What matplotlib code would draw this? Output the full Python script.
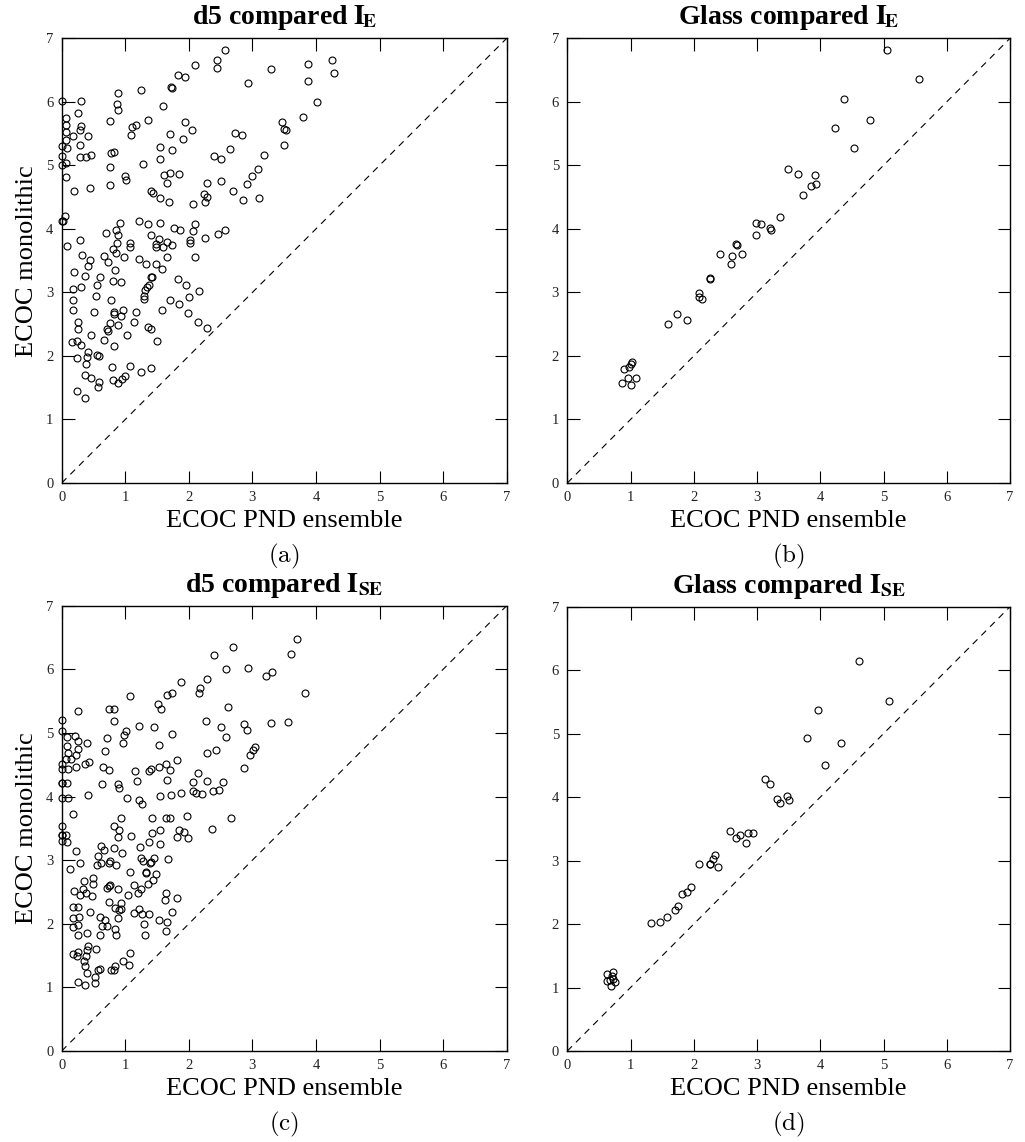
import numpy as np
import matplotlib
matplotlib.use('Agg')
import matplotlib.pyplot as plt

# ---------------- data (ECOC PND ensemble, ECOC monolithic) ----------------
d5_IE = [
    (2.57,6.82),(2.44,6.66),(2.44,6.54),(2.10,6.58),(1.83,6.43),(1.94,6.39),(3.29,6.52),(2.93,6.30),
    (1.72,6.23),(1.73,6.22),(1.24,6.19),(0.88,6.14),(0.87,5.96),(0.88,5.87),(1.59,5.93),(0.00,6.02),
    (0.30,6.01),(0.26,5.82),(0.06,5.75),(0.06,5.63),(0.31,5.62),(0.07,5.53),(0.29,5.55),(0.18,5.46),
    (0.42,5.46),(0.06,5.40),(0.00,5.30),(0.08,5.27),(0.28,5.32),(0.00,5.14),(0.29,5.13),(0.38,5.13),
    (0.46,5.17),(0.06,5.03),(0.00,5.00),(0.07,4.81),(0.19,4.59),(0.44,4.65),(0.76,5.70),(1.11,5.61),
    (1.17,5.64),(1.09,5.48),(1.36,5.72),(1.94,5.68),(2.05,5.55),(1.91,5.42),(1.71,5.50),(1.54,5.29),
    (1.73,5.24),(1.54,5.10),(1.28,5.02),(0.76,4.97),(0.77,5.19),(0.82,5.21),(0.99,4.84),(1.01,4.77),
    (0.76,4.69),(1.61,4.85),(1.71,4.88),(1.84,4.87),(1.66,4.73),(1.41,4.59),(1.43,4.57),(1.55,4.48),
    (1.68,4.42),(2.07,4.39),(2.24,4.55),(2.29,4.50),(2.25,4.42),(2.29,4.73),(2.50,4.76),(2.39,5.14),
    (2.51,5.10),(2.65,5.25),(2.73,5.51),(2.84,5.47),(3.19,5.16),(3.09,4.95),(3.00,4.83),(2.92,4.71),
    (2.70,4.60),(2.85,4.45),(3.11,4.48),(3.46,5.68),(3.49,5.57),(3.49,5.32),
    (0.00,4.12),(0.05,4.20),(0.02,4.12),(0.08,3.73),(0.28,3.83),(0.32,3.59),(0.44,3.51),(0.70,3.94),
    (0.86,3.99),(0.92,4.10),(0.89,3.90),(0.87,3.78),(0.80,3.68),(0.85,3.62),(0.66,3.58),(1.08,3.77),
    (1.08,3.72),(0.98,3.55),(1.21,4.12),(1.35,4.07),(1.54,4.09),(1.40,3.90),(1.53,3.84),(1.48,3.76),
    (1.49,3.72),(1.59,3.71),(1.66,3.79),(1.74,3.74),(1.77,4.01),(1.86,3.98),(2.09,4.07),(2.07,3.97),
    (2.02,3.82),(2.02,3.77),(2.26,3.86),(2.46,3.92),(2.57,3.98),(1.65,3.56),(2.09,3.56),(1.21,3.53),
    (3.87,6.60),(4.25,6.66),(4.28,6.46),(3.87,6.32),(4.01,6.00),(3.79,5.76),(3.53,5.56),
    (1.32,3.44),(1.48,3.44),(1.57,3.37),(0.19,3.32),(0.36,3.26),(0.41,3.41),(0.73,3.48),(0.84,3.35),
    (0.60,3.24),(0.55,3.12),(0.31,3.09),(0.18,3.06),(0.17,2.88),(0.17,2.72),(0.54,2.94),(0.77,2.88),
    (0.80,3.18),(0.93,3.16),(1.31,3.04),(1.34,3.09),(1.38,3.12),(1.41,3.24),(1.42,3.25),(1.30,2.95),
    (1.29,2.89),(1.83,3.21),(1.95,3.12),(2.16,3.02),(1.70,2.88),(1.84,2.82),(2.00,2.92),(1.98,2.67),
    (1.58,2.73),(2.14,2.53),(2.29,2.44),(0.51,2.69),(0.82,2.69),(0.83,2.66),(0.97,2.72),(0.94,2.63),
    (1.17,2.69),(1.13,2.54),(0.76,2.52),(0.88,2.48),(0.71,2.42),(0.73,2.40),(1.36,2.46),(1.40,2.42),
    (0.26,2.54),(0.25,2.42),(0.46,2.33),(0.67,2.25),(1.03,2.33),(1.50,2.23),(0.16,2.22),(0.24,2.24),
    (0.30,2.18),(0.82,2.16),(0.42,2.06),(0.40,1.98),(0.24,1.97),(0.56,2.02),(0.58,2.00),(0.38,1.88),
    (0.79,1.82),(1.08,1.84),(1.24,1.74),(1.41,1.81),(0.36,1.70),(0.46,1.66),(0.58,1.59),(0.57,1.51),
    (0.80,1.62),(0.88,1.57),(0.95,1.63),(0.99,1.69),(0.24,1.45),(0.36,1.34),
]

glass_IE = [
    (5.06,6.81),(5.56,6.36),(4.38,6.04),(4.79,5.71),(4.24,5.59),(4.53,5.28),(3.49,4.95),(3.64,4.86),
    (3.91,4.85),(3.93,4.71),(3.85,4.67),(3.72,4.54),(3.36,4.19),(2.98,4.09),(3.07,4.08),(3.21,4.01),
    (3.22,3.99),(2.99,3.91),(2.67,3.76),(2.68,3.75),(2.42,3.61),(2.60,3.57),(2.77,3.61),(2.59,3.45),
    (2.26,3.23),(2.26,3.21),(2.09,2.99),(2.09,2.93),(2.13,2.90),(1.74,2.66),(1.89,2.57),(1.59,2.50),
    (1.03,1.90),(1.00,1.88),(0.97,1.83),(0.89,1.80),(0.96,1.66),(1.08,1.65),(0.86,1.57),(1.01,1.55),
]

d5_ISE = [
    (2.70,6.35),(2.39,6.23),(2.58,6.01),(2.93,6.02),(3.21,5.90),(3.31,5.96),(2.29,5.85),(1.87,5.80),
    (2.18,5.70),(2.16,5.63),(1.08,5.58),(1.65,5.60),(1.73,5.62),(1.51,5.45),(1.56,5.38),(2.61,5.40),
    (0.74,5.37),(0.83,5.37),(0.25,5.34),(0.82,5.18),(0.00,5.21),(0.00,5.03),(0.08,4.94),(0.21,4.95),
    (0.25,4.88),(0.40,4.84),(0.09,4.80),(0.10,4.69),(0.25,4.74),(0.23,4.66),(0.06,4.59),(0.15,4.59),
    (0.00,4.51),(0.00,4.43),(0.10,4.44),(0.23,4.46),(0.36,4.51),(0.43,4.54),(0.00,4.21),(0.01,4.22),
    (0.08,4.21),(0.00,3.98),(0.10,3.97),(0.41,4.02),(0.17,3.72),(0.00,3.54),(0.00,3.39),(0.01,3.40),
    (0.07,3.39),(0.72,4.92),(1.01,5.03),(0.98,4.96),(0.97,4.84),(0.68,4.71),(1.21,5.11),(1.45,5.10),
    (1.74,4.98),(1.53,4.81),(0.65,4.47),(0.75,4.42),(0.64,4.19),(0.89,4.19),(0.90,4.13),(1.15,4.40),
    (1.37,4.40),(1.40,4.43),(1.53,4.46),(1.64,4.51),(1.70,4.42),(1.81,4.58),(1.19,4.24),(1.66,4.26),
    (1.03,3.98),(1.22,3.95),(1.27,3.88),(1.55,4.01),(1.72,4.03),(1.88,4.06),(2.06,4.09),(2.12,4.05),
    (2.20,4.04),(2.07,4.23),(2.15,4.37),(2.28,4.25),(2.38,4.08),(2.47,4.10),(2.53,4.23),(2.29,4.69),
    (2.43,4.73),(2.27,5.18),(2.51,5.09),(2.59,4.94),(2.87,5.14),(2.91,5.05),(3.30,5.15),(3.04,4.78),
    (3.01,4.73),(2.96,4.66),(2.86,4.45),(0.93,3.67),(0.83,3.53),(0.90,3.48),(1.42,3.67),(1.64,3.67),
    (1.70,3.67),(1.97,3.69),(2.66,3.66),(2.36,3.49),(1.85,3.47),(1.93,3.45),(1.54,3.47),(1.42,3.42),
    (1.82,3.37),(1.99,3.35),(1.09,3.38),(0.89,3.37),
    (3.70,6.48),(3.61,6.24),(3.83,5.63),(3.56,5.17),
    (0.00,3.30),(0.08,3.28),(1.54,3.26),(1.38,3.29),(0.62,3.22),(0.66,3.16),(0.57,3.06),(0.55,2.92),
    (0.62,2.96),(0.75,2.95),(0.76,2.98),(0.85,2.93),(0.83,3.19),(0.95,3.11),(0.23,3.15),(0.29,2.96),
    (0.13,2.86),(1.23,3.21),(1.24,3.04),(1.28,2.98),(1.39,2.96),(1.40,2.97),(1.45,3.04),(1.32,2.81),
    (1.33,2.80),(1.49,2.78),(1.44,2.69),(1.36,2.63),(1.67,3.02),(1.07,2.81),(0.50,2.72),(0.35,2.67),
    (0.49,2.62),(0.20,2.52),(0.34,2.55),(0.29,2.45),(0.39,2.48),(0.47,2.43),(0.74,2.59),(0.76,2.61),
    (0.71,2.57),(0.88,2.55),(1.14,2.61),(1.25,2.54),(1.20,2.48),(1.05,2.45),(1.64,2.49),(1.63,2.37),
    (1.82,2.41),(0.74,2.35),(0.18,2.27),(0.25,2.27),(0.44,2.19),(0.84,2.25),(0.90,2.22),(0.94,2.24),
    (0.93,2.32),(1.13,2.17),(1.22,2.24),(1.27,2.16),(1.38,2.16),(1.73,2.19),(0.18,2.09),(0.27,2.10),
    (0.26,1.98),(0.18,1.95),(0.25,1.82),(0.61,2.11),(0.68,2.06),(0.64,1.96),(0.72,1.96),(0.61,1.82),
    (0.88,2.09),(0.84,1.92),(0.85,1.82),(0.40,1.86),(1.53,2.06),(1.66,2.02),(1.64,1.88),(1.30,1.99),
    (1.31,1.83),(0.41,1.65),(0.40,1.58),(0.38,1.49),(0.54,1.60),(0.17,1.53),(0.25,1.56),(0.24,1.49),
    (0.35,1.41),(0.37,1.33),(0.40,1.22),(0.57,1.28),(0.61,1.29),(0.77,1.28),(0.82,1.28),(0.84,1.33),
    (0.97,1.41),(1.06,1.35),(1.08,1.54),(0.53,1.16),(0.52,1.07),(0.25,1.08),(0.36,1.03),
]

glass_ISE = [
    (4.62,6.14),(5.09,5.51),(3.96,5.37),(3.79,4.93),(4.32,4.86),(4.07,4.51),(3.12,4.28),(3.21,4.21),
    (3.32,3.97),(3.37,3.91),(3.47,4.02),(3.51,3.95),(2.57,3.47),(2.66,3.35),(2.73,3.41),(2.85,3.44),
    (2.93,3.44),(2.82,3.27),(2.09,2.94),(2.25,2.94),(2.26,2.95),(2.30,3.02),(2.34,3.09),(2.38,2.90),
    (1.95,2.59),(1.89,2.50),(1.82,2.48),(1.75,2.29),(1.71,2.22),(1.57,2.11),(1.46,2.03),(1.33,2.01),
    (0.72,1.25),(0.63,1.22),(0.71,1.18),(0.72,1.14),(0.63,1.10),(0.67,1.12),(0.75,1.08),(0.69,1.02),
]

panel_data = [d5_IE, glass_IE, d5_ISE, glass_ISE]
titles = [r"d5 compared $\mathbf{I}_{\!\mathbf{E}}$",
          r"Glass compared $\mathbf{I}_{\!\mathbf{E}}$",
          r"d5 compared $\mathbf{I}_{\mathbf{SE}}$",
          r"Glass compared $\mathbf{I}_{\mathbf{SE}}$"]
panel_labels = ["(a)", "(b)", "(c)", "(d)"]
x_label = "ECOC PND ensemble"
y_label = "ECOC monolithic"
tick_values = list(range(8))

# ---------------- layout ----------------
W, H = 1025, 1142
fig = plt.figure(figsize=(W / 100, H / 100), dpi=100)
boxes = [(61.7, 38.3, 506.7, 483.0), (567.3, 38.3, 1010.0, 483.0),
         (61.7, 605.7, 506.7, 1051.0), (567.3, 606.7, 1010.0, 1051.0)]
serif = "Liberation Serif"

for i, (pts, box) in enumerate(zip(panel_data, boxes)):
    l, t, r, b = box
    ax = fig.add_axes([l / W, 1 - b / H, (r - l) / W, (b - t) / H])
    arr = np.array(pts)
    ax.plot([0, 7], [0, 7], color="black", lw=0.8, ls=(0, (6, 5)))
    ax.plot(arr[:, 0], arr[:, 1], "o", ms=5.0, mfc="none", mec="black", mew=0.8,
            clip_on=False, zorder=3)
    ax.set_xlim(0, 7)
    ax.set_ylim(0, 7)
    ax.set_xticks(tick_values)
    ax.set_yticks(tick_values)
    ax.tick_params(direction="in", length=9, width=0.8, top=True, right=True,
                   labelsize=10.5, pad=6, labelcolor="#222222")
    for lab in ax.get_xticklabels() + ax.get_yticklabels():
        lab.set_family(serif)
    for sp in ax.spines.values():
        sp.set_linewidth(1.0)
    ax.set_title(titles[i], fontsize=20, fontweight="bold", family=serif,
                 math_fontfamily="stix", pad=10)
    ax.set_xlabel(x_label, fontsize=19, family=serif, labelpad=4)
    if i % 2 == 0:
        ax.set_ylabel(y_label, fontsize=19, family=serif)
        ax.yaxis.set_label_coords(-(l - 38) / (r - l), 0.5)
    fig.text(((l + r) / 2) / W, 1 - (b + 73) / H, r"$\mathrm{" + panel_labels[i] + "}$",
             math_fontfamily="cm", fontsize=18, ha="center", va="center")

fig.savefig("out.png", dpi=100)
